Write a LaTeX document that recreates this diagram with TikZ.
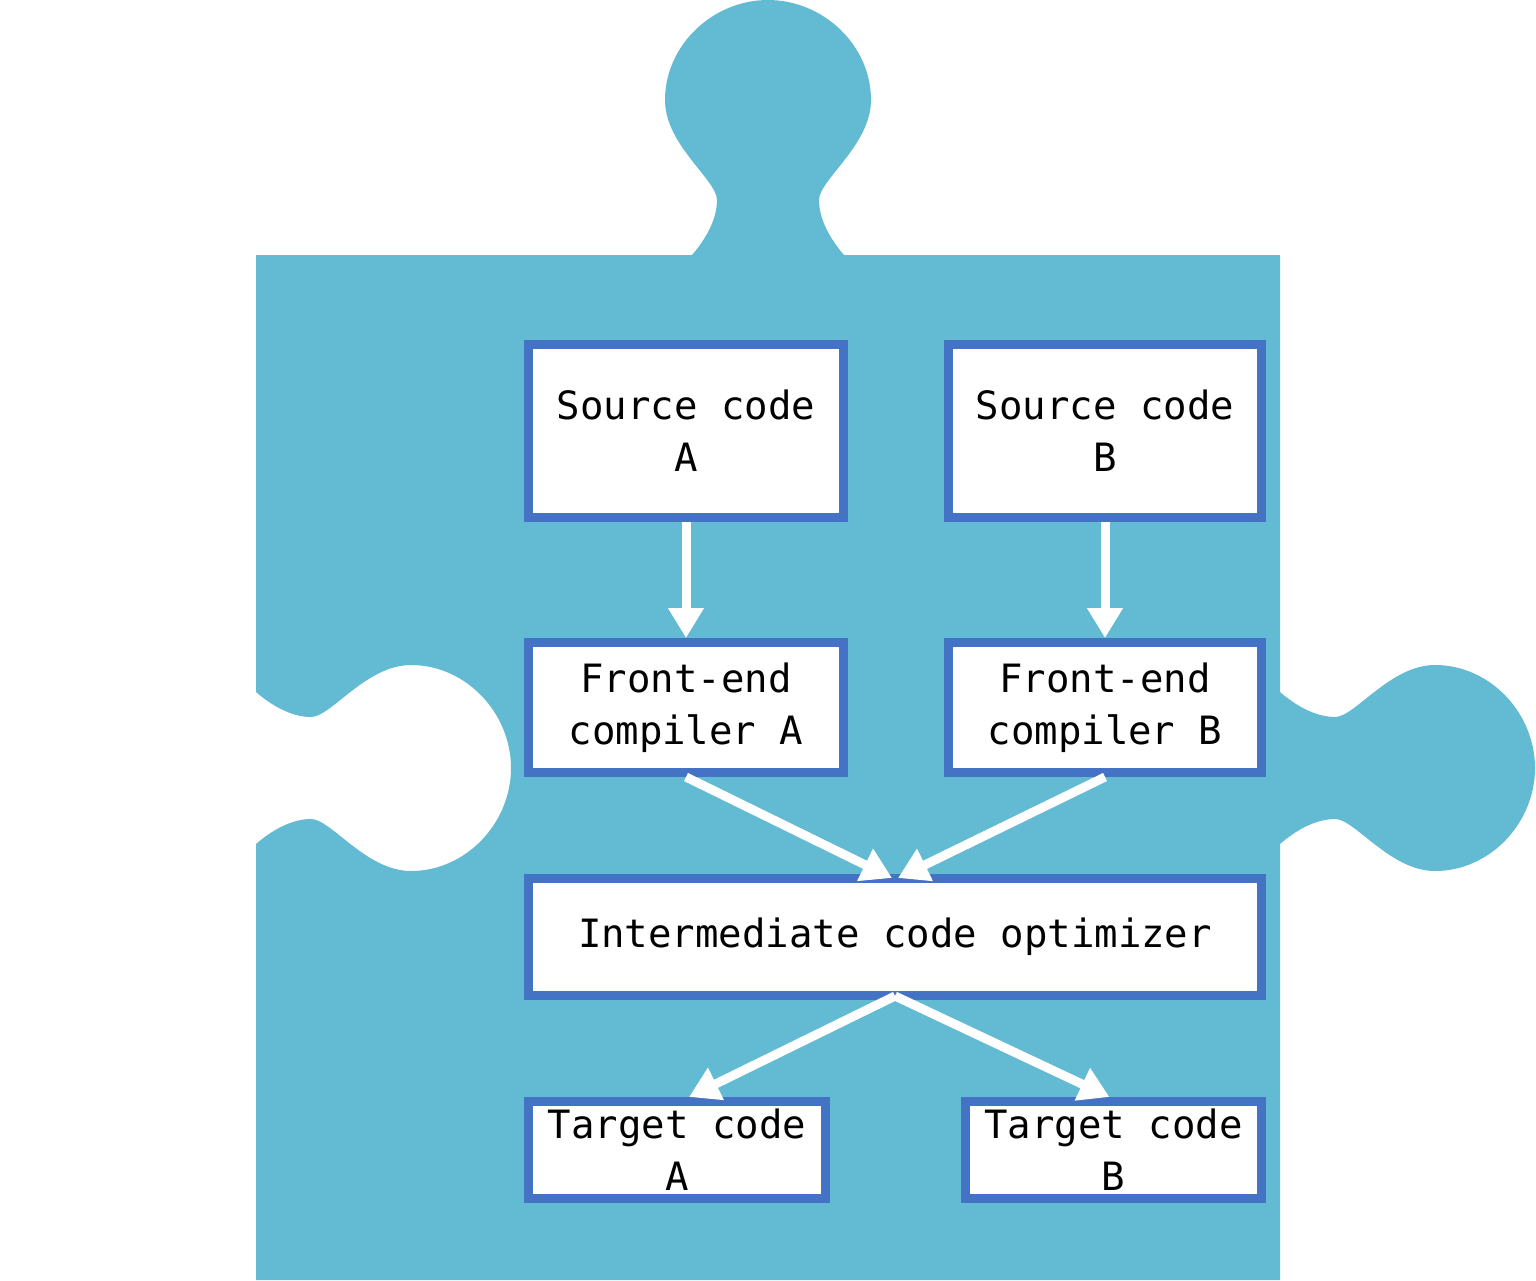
\documentclass[tikz,border=0pt]{standalone}
\usepackage{fontspec}
\newfontfamily\boxfont{DejaVu Sans Mono}
\usetikzlibrary{arrows.meta,calc}
\definecolor{puzzle}{RGB}{98,187,211}
\definecolor{boxblue}{RGB}{68,114,196}
\tikzset{
  stagebox/.style={draw=boxblue, line width=9pt, fill=white, inner sep=0pt,
    align=center, font=\boxfont\fontsize{39}{52}\selectfont},
  flow/.style={draw=white, line width=9pt, -{Triangle[length=30pt,width=34pt]}}
}
\begin{document}
\begin{tikzpicture}[x=1pt,y=-1pt]
\useasboundingbox (0,0) rectangle (1536,1280);
% puzzle piece
\fill[puzzle] (256,255) -- (692,255)
  .. controls (705,240) and (717,220) .. (717,200)
  .. controls (717,180) and (665,145) .. (665,100)
  .. controls (665,45) and (713,0) .. (768,0)
  .. controls (823,0) and (871,45) .. (871,100)
  .. controls (871,145) and (819,180) .. (819,200)
  .. controls (819,220) and (831,240) .. (844,255)
  -- (1280,255) -- (1280,692)
  .. controls (1295,705) and (1315,717) .. (1335,717)
  .. controls (1355,717) and (1390,665) .. (1435,665)
  .. controls (1490,665) and (1535,713) .. (1535,768)
  .. controls (1535,823) and (1490,871) .. (1435,871)
  .. controls (1390,871) and (1355,819) .. (1335,819)
  .. controls (1315,819) and (1295,831) .. (1280,844)
  -- (1280,1280) -- (256,1280) -- (256,844)
  .. controls (271,831) and (291,819) .. (311,819)
  .. controls (331,819) and (366,871) .. (411,871)
  .. controls (466,871) and (511,823) .. (511,768)
  .. controls (511,713) and (466,665) .. (411,665)
  .. controls (366,665) and (331,717) .. (311,717)
  .. controls (291,717) and (271,705) .. (256,692)
  -- cycle;
% boxes
\node[stagebox, minimum width=315pt, minimum height=173pt] (srcA) at (686,431) {Source code\\A};
\node[stagebox, minimum width=313pt, minimum height=173pt] (srcB) at (1105,431) {Source code\\B};
\node[stagebox, minimum width=315pt, minimum height=130pt] (feA) at (686,707.5) {Front-end\\compiler A};
\node[stagebox, minimum width=313pt, minimum height=130pt] (feB) at (1105,707.5) {Front-end\\compiler B};
\node[stagebox, minimum width=733pt, minimum height=117pt] (opt) at (895,937) {Intermediate code optimizer};
\node[stagebox, minimum width=297pt, minimum height=97pt] (tgA) at (677,1150) {Target code\\A};
\node[stagebox, minimum width=296pt, minimum height=97pt] (tgB) at (1113.5,1150) {Target code\\B};
% arrows
\draw[flow] (srcA.south) -- (feA.north);
\draw[flow] (srcB.south) -- (feB.north);
\draw[flow] (feA.south) -- ($(opt.north)+(-3,4)$);
\draw[flow] (feB.south) -- ($(opt.north)+(3,4)$);
\draw[flow] ($(opt.south)+(0,-4)$) -- ($(tgA.north)+(12,0)$);
\draw[flow] ($(opt.south)+(0,-4)$) -- ($(tgB.north)+(-4,0)$);
\end{tikzpicture}
\end{document}
